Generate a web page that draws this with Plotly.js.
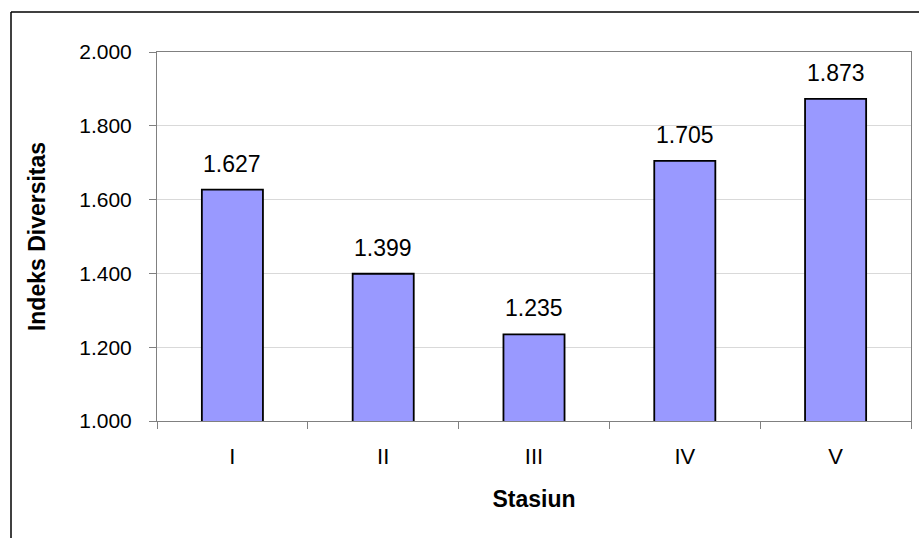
<!DOCTYPE html>
<html>
<head>
<meta charset="utf-8">
<script src="https://cdn.plot.ly/plotly-3.0.1.min.js"></script>
<style>html,body{margin:0;padding:0;background:#fff;}#chart{width:919px;height:538px;}</style>
</head>
<body>
<div id="chart"></div>
<script>
const categories = ["I", "II", "III", "IV", "V"];
const values = [1.627, 1.399, 1.235, 1.705, 1.873];
const yTickVals = [1.0, 1.2, 1.4, 1.6, 1.8, 2.0];

const FONT = "Liberation Sans, Arial, sans-serif";

const trace = {
  type: "bar",
  x: categories,
  y: values,
  base: 0,
  marker: { color: "#9999FF", line: { color: "#000000", width: 1.8 } },
  hoverinfo: "x+y"
};

const annotations = categories.map((c, i) => ({
  x: c, y: values[i], xref: "x", yref: "y",
  text: values[i].toFixed(3), showarrow: false,
  yanchor: "bottom", yshift: 11,
  font: { family: FONT, size: 23, color: "#000" }
}));

const L = 157, R = 911, T = 52, B = 421, W = 919, H = 538;
const px2x = p => (p - L) / (R - L);
const py2y = p => (B - p) / (B - T);

const layout = {
  width: W, height: H,
  margin: { l: L, r: W - R, t: T, b: H - B, pad: 0 },
  paper_bgcolor: "#fff", plot_bgcolor: "#fff",
  showlegend: false,
  bargap: 0.595,
  font: { family: FONT, size: 21, color: "#000" },
  xaxis: {
    type: "category",
    tickson: "boundaries",
    ticks: "outside", ticklen: 7, tickcolor: "#808080", tickwidth: 1,
    showline: true, linecolor: "#808080", linewidth: 1, mirror: true,
    showgrid: false, zeroline: false,
    ticklabelstandoff: 16,
    tickfont: { family: FONT, size: 22, color: "#000" },
    title: { text: "<b>Stasiun</b>", font: { family: FONT, size: 23, color: "#000" }, standoff: 22 }
  },
  yaxis: {
    range: [1, 2],
    tickvals: yTickVals,
    tickformat: ".3f",
    ticks: "outside", ticklen: 7, tickcolor: "#808080", tickwidth: 1,
    showline: true, linecolor: "#808080", linewidth: 1, mirror: true,
    showgrid: true, gridcolor: "#d9d9d9", gridwidth: 1,
    zeroline: false,
    ticklabelstandoff: 13,
    tickfont: { family: FONT, size: 21, color: "#000" },
    title: { text: "<b>Indeks Diversitas</b>", font: { family: FONT, size: 23, color: "#000" }, standoff: 27 }
  },
  annotations: annotations,
  shapes: [
    { type: "line", xref: "paper", yref: "paper", x0: px2x(11), x1: px2x(11), y0: py2y(12), y1: py2y(545), line: { color: "#000", width: 1.5 } },
    { type: "line", xref: "paper", yref: "paper", x0: px2x(11), x1: px2x(930), y0: py2y(12), y1: py2y(12), line: { color: "#000", width: 1.5 } }
  ]
};

Plotly.newPlot("chart", [trace], layout, { displayModeBar: false, staticPlot: true });
</script>
</body>
</html>
